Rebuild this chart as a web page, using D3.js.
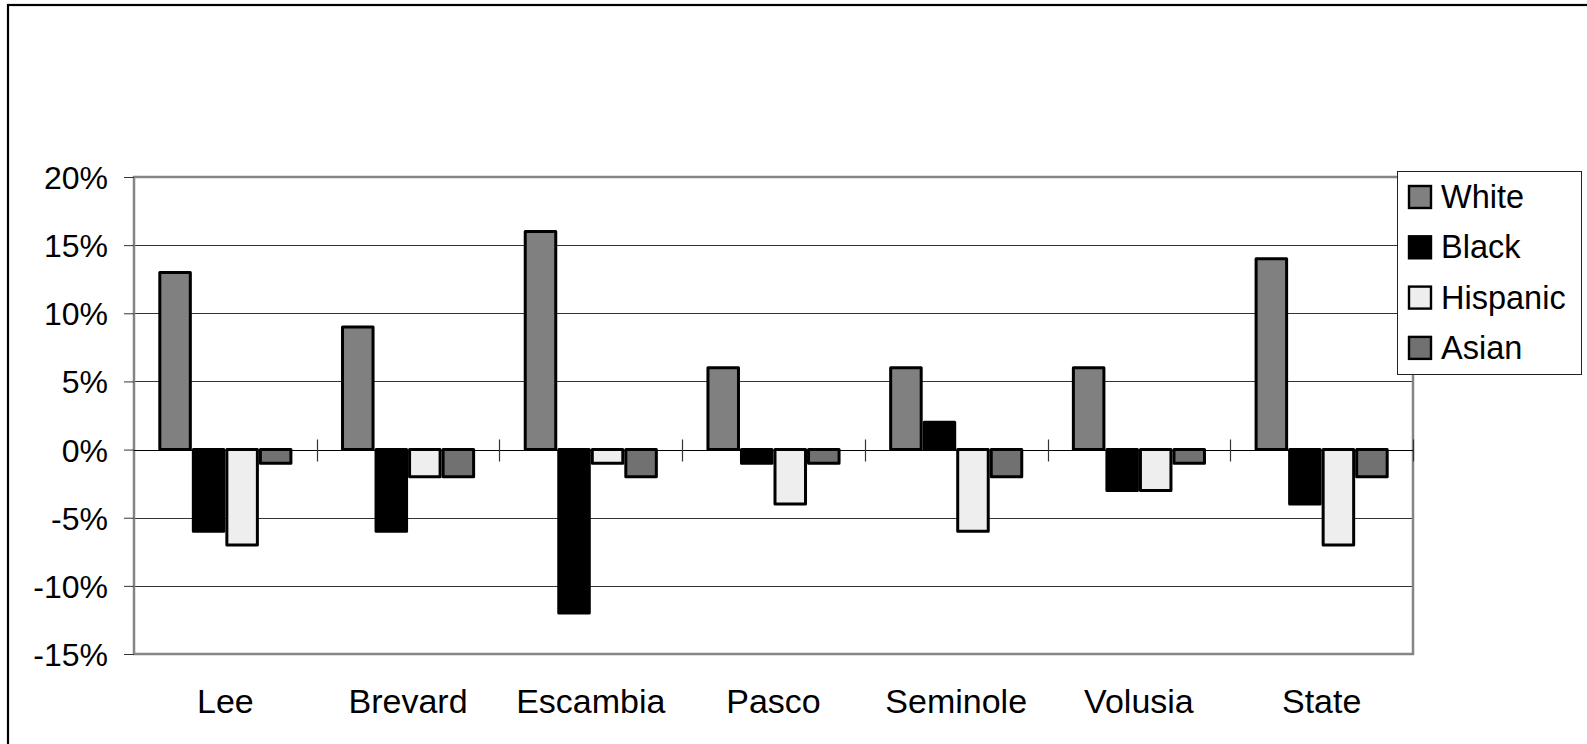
<!DOCTYPE html>
<html>
<head>
<meta charset="utf-8">
<script src="https://cdn.jsdelivr.net/npm/d3@7"></script>
<style>
  html, body { margin: 0; padding: 0; background: #fff; }
  text { font-family: "Liberation Sans", Arial, sans-serif; fill: #000; }
</style>
</head>
<body>
<div id="chart"></div>
<script>
// chart values (percent change)
var counties = ["Lee", "Brevard", "Escambia", "Pasco", "Seminole", "Volusia", "State"];
var groups = ["White", "Black", "Hispanic", "Asian"];
var white = [13, 9, 16, 6, 6, 6, 14];
var black = [-6, -6, -12, -1, 2, -3, -4];
var hispanic = [-7, -2, -1, -4, -6, -3, -7];
var asian = [-1, -2, -2, -1, -2, -1, -2];
var yTicks = [20, 15, 10, 5, 0, -5, -10, -15];
var fills = ["#808080", "#000000", "#eeeeee", "#717171"];

window.addEventListener("DOMContentLoaded", () => {
    var W = 1587, H = 744;
    var svg = d3.select("#chart").append("svg")
        .attr("width", W).attr("height", H);

    // outer frame (runs off the right and bottom edges)
    svg.append("rect")
        .attr("x", 8).attr("y", 5)
        .attr("width", 1700).attr("height", 900)
        .attr("fill", "#fff").attr("stroke", "#000").attr("stroke-width", 2.2);

    var left = 134, right = 1413, top = 177, bottom = 654;

    var y = d3.scaleLinear().domain([-15, 20]).range([bottom, top]);
    var x0 = d3.scaleBand().domain(counties).range([left, right]).padding(0);
    var x1 = d3.scaleBand().domain(groups).range([0, x0.bandwidth()])
        .paddingInner(0).paddingOuter(0.725);

    var rows = counties.map((c, i) => ({
        county: c,
        vals: [white[i], black[i], hispanic[i], asian[i]]
    }));

    // gridlines
    svg.append("g").selectAll("line")
        .data(yTicks.filter(t => t !== 20 && t !== -15 && t !== 0))
        .join("line")
        .attr("x1", left).attr("x2", right)
        .attr("y1", d => Math.round(y(d)) + 0.5).attr("y2", d => Math.round(y(d)) + 0.5)
        .attr("stroke", "#333").attr("stroke-width", 1.2);

    // plot area border
    svg.append("rect")
        .attr("x", left).attr("y", top)
        .attr("width", right - left).attr("height", bottom - top)
        .attr("fill", "none").attr("stroke", "#858585").attr("stroke-width", 2.5);

    // y axis
    var yAxis = d3.axisLeft(y).tickValues(yTicks)
        .tickFormat(d => d + "%").tickSize(10).tickPadding(16);
    var ya = svg.append("g").attr("transform", "translate(" + left + ",0)").call(yAxis);
    ya.select(".domain").remove();
    ya.selectAll(".tick line").attr("stroke", "#333");
    ya.selectAll(".tick text")
        .attr("font-size", 32).attr("dy", "0.36em")
        .style("font-family", "'Liberation Sans', Arial, sans-serif");

    // bars
    var g = svg.append("g");
    g.selectAll("g").data(rows).join("g")
        .attr("transform", d => "translate(" + x0(d.county) + ",0)")
        .selectAll("rect")
        .data(d => d.vals.map((v, k) => ({ key: groups[k], v: v, k: k })))
        .join("rect")
        .attr("x", d => x1(d.key) + 1.5)
        .attr("width", x1.bandwidth() - 3)
        .attr("y", d => y(Math.max(0, d.v)))
        .attr("height", d => Math.abs(y(d.v) - y(0)))
        .attr("fill", d => fills[d.k])
        .attr("stroke", "#000").attr("stroke-width", 3)
        .attr("stroke-linejoin", "round");

    // zero line with category tick marks crossing it
    var y0 = Math.round(y(0)) + 0.5;
    svg.append("line")
        .attr("x1", left).attr("x2", right)
        .attr("y1", y0).attr("y2", y0)
        .attr("stroke", "#000").attr("stroke-width", 1.2);
    var xAxis = d3.axisBottom(x0).tickSize(0).tickFormat(d => d);
    var bounds = counties.map(c => x0(c)).concat([right]);
    svg.append("g").selectAll("line").data(bounds.slice(1)).join("line")
        .attr("x1", d => Math.round(d) + 0.5).attr("x2", d => Math.round(d) + 0.5)
        .attr("y1", y0 - 11).attr("y2", y0 + 11)
        .attr("stroke", "#333").attr("stroke-width", 1.2);

    // category labels
    var xa = svg.append("g").attr("transform", "translate(0," + bottom + ")").call(xAxis);
    xa.select(".domain").remove();
    xa.selectAll(".tick text")
        .attr("y", 0).attr("dy", 59)
        .attr("font-size", 34)
        .style("font-family", "'Liberation Sans', Arial, sans-serif");

    // legend
    var lg = svg.append("g");
    lg.append("rect")
        .attr("x", 1397.5).attr("y", 171.5)
        .attr("width", 184).attr("height", 203)
        .attr("fill", "#fff").attr("stroke", "#222").attr("stroke-width", 1);
    var items = lg.selectAll("g.item").data(groups).join("g")
        .attr("transform", (d, i) => "translate(1409," + (197 + i * 50.3) + ")");
    items.append("rect")
        .attr("x", 0).attr("y", -11)
        .attr("width", 22).attr("height", 22)
        .attr("fill", (d, i) => fills[i])
        .attr("stroke", "#000").attr("stroke-width", 2.4);
    items.append("text")
        .attr("x", 32).attr("y", 11)
        .attr("font-size", 32.5)
        .text(d => d);
});
</script>
</body>
</html>
